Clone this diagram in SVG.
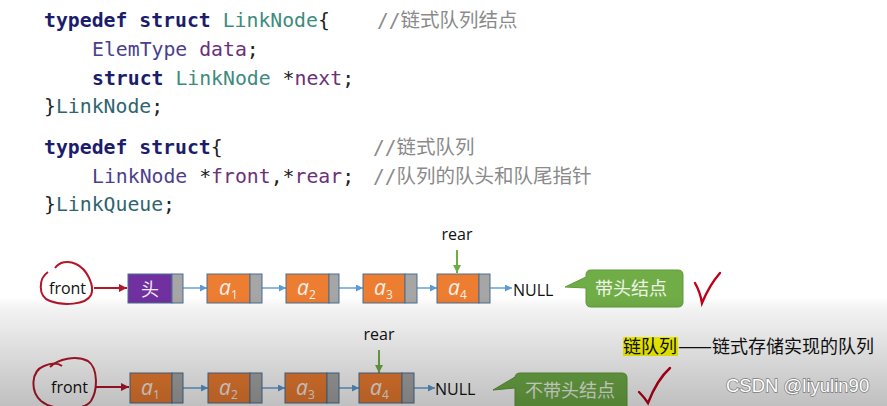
<svg xmlns="http://www.w3.org/2000/svg" width="887" height="406" viewBox="0 0 887 406">
<defs>
<style>
.code{font-family:"DejaVu Sans Mono","Noto Sans CJK SC",monospace;font-size:19.8px;fill:#222}
.kw{fill:#1c1c6c;font-weight:bold}
.ty{fill:#3d8b7c}
.tn{fill:#2f6470}
.et{fill:#4b3f8c}
.id{fill:#6c2f7a}
.cm{fill:#8a8a8a;font-family:"DejaVu Sans Mono","Noto Sans CJK SC",monospace}
.lbl{font-family:"Open Sans","Liberation Sans",sans-serif;font-size:16px;fill:#111}
.data{stroke:#4a6f8f;stroke-width:1}
.ptr{fill:#a6a6a6;stroke:#4a6f8f;stroke-width:1}
.av{font-family:"Open Sans","Liberation Sans",sans-serif;font-style:italic;font-size:21px;fill:#f6efe9}
.sub{font-size:12px;font-style:normal}
.blue{stroke:#5b9bd5;stroke-width:1.4;fill:none;marker-end:url(#ab)}
.red{stroke:#b3172b;stroke-width:2;fill:none}
.green{stroke:#70ad47;stroke-width:2;fill:none;marker-end:url(#ag)}
.call{fill:#70ad47;stroke:#5f9a3c;stroke-width:1}
.ct{font-family:"Noto Sans CJK SC",sans-serif;font-size:18px;fill:#eef5e8}
.cjk{font-family:"Noto Sans CJK SC",sans-serif;font-size:18px;fill:#111}
</style>
<marker id="ab" viewBox="0 0 10 10" refX="10" refY="5" markerWidth="7" markerHeight="7" markerUnits="userSpaceOnUse" orient="auto"><path d="M0,0 L10,5 L0,10 Z" fill="#5b9bd5"/></marker>
<marker id="ar" viewBox="0 0 10 10" refX="10" refY="5" markerWidth="8" markerHeight="8" markerUnits="userSpaceOnUse" orient="auto"><path d="M0,0 L10,5 L0,10 Z" fill="#b3172b"/></marker>
<marker id="ag" viewBox="0 0 10 10" refX="10" refY="5" markerWidth="8" markerHeight="8" markerUnits="userSpaceOnUse" orient="auto"><path d="M0,0 L10,5 L0,10 Z" fill="#70ad47"/></marker>
<linearGradient id="shade" x1="0" y1="0" x2="0" y2="1">
<stop offset="0" stop-color="#000" stop-opacity="0"/>
<stop offset="0.12" stop-color="#000" stop-opacity="0.05"/>
<stop offset="1" stop-color="#000" stop-opacity="0.25"/>
</linearGradient>
</defs>
<rect width="887" height="406" fill="#ffffff"/>

<g id="code" xml:space="preserve">
<text class="code" x="44" y="27"><tspan class="kw">typedef struct</tspan> <tspan class="ty">LinkNode</tspan>{</text>
<text class="cm" x="377" y="27" font-size="19.5">//链式队列结点</text>
<text class="code" x="92" y="56"><tspan class="et">ElemType</tspan> <tspan class="id">data</tspan>;</text>
<text class="code" x="92" y="85"><tspan class="kw">struct</tspan> <tspan class="ty">LinkNode</tspan> *<tspan class="id">next</tspan>;</text>
<text class="code" x="44" y="113">}<tspan class="tn">LinkNode</tspan>;</text>
<text class="code" x="44" y="154"><tspan class="kw">typedef struct</tspan>{</text>
<text class="cm" x="373" y="154" font-size="19.5">//链式队列</text>
<text class="code" x="92" y="183"><tspan class="et">LinkNode</tspan> *<tspan class="id">front</tspan>,*<tspan class="id">rear</tspan>;</text>
<text class="cm" x="373" y="183" font-size="19.5">//队列的队头和队尾指针</text>
<text class="code" x="44" y="211">}<tspan class="tn">LinkQueue</tspan>;</text>
</g>

<g id="connectors">
<path class="red" d="M94,288 H127" marker-end="url(#ar)"/>
<path class="blue" d="M183,288 H207"/>
<path class="blue" d="M262,288 H286"/>
<path class="blue" d="M339,288 H363"/>
<path class="blue" d="M417,288 H437"/>
<path class="blue" d="M490,288 H512"/>
<path class="green" d="M457,250 V273"/>
<path class="red" d="M96,387 H129" marker-end="url(#ar)"/>
<path class="blue" d="M183,388 H208"/>
<path class="blue" d="M262,388 H285"/>
<path class="blue" d="M339,388 H359"/>
<path class="blue" d="M414,388 H435"/>
<path class="green" d="M379,350 V373"/>
</g>

<g id="front1">
<path class="red" d="M48,272 C39,278 37,296 50,301 C63,306 86,305 91,295 C95,286 87,269 76,264 C68,260 59,262 55,268"/>
<text class="lbl" x="49" y="294">front</text>
</g>
<g id="head">
<rect x="128" y="274" width="44" height="29" fill="#7030a0" class="data"/>
<rect x="172" y="274" width="11" height="29" class="ptr"/>
<text x="150" y="296" text-anchor="middle" font-family="Noto Sans CJK SC,sans-serif" font-size="18" fill="#f0e8f6">头</text>
</g>
<g id="n1a1"><rect x="207" y="274" width="43" height="29" fill="#ed7d31" class="data"/><rect x="250" y="274" width="12" height="29" class="ptr"/><text class="av" x="219" y="295">a<tspan class="sub" dy="4">1</tspan></text></g>
<g id="n1a2"><rect x="286" y="274" width="43" height="29" fill="#ed7d31" class="data"/><rect x="329" y="274" width="10" height="29" class="ptr"/><text class="av" x="297" y="295">a<tspan class="sub" dy="4">2</tspan></text></g>
<g id="n1a3"><rect x="363" y="274" width="42" height="29" fill="#ed7d31" class="data"/><rect x="405" y="274" width="12" height="29" class="ptr"/><text class="av" x="374" y="295">a<tspan class="sub" dy="4">3</tspan></text></g>
<g id="n1a4"><rect x="437" y="274" width="42" height="29" fill="#ed7d31" class="data"/><rect x="479" y="274" width="11" height="29" class="ptr"/><text class="av" x="448" y="295">a<tspan class="sub" dy="4">4</tspan></text></g>
<g id="rear1"><text class="lbl" x="457" y="240" text-anchor="middle">rear</text></g>
<g id="null1"><text class="lbl" x="513" y="296">NULL</text></g>
<g id="callout1">
<path class="call" d="M591,270 H678 Q683,270 683,275 V302 Q683,307 678,307 H591 Q586,307 586,302 V288 L565,287 L586,277 V275 Q586,270 591,270 Z"/>
<text class="ct" x="595" y="295">带头结点</text>
</g>
<g id="check1"><path d="M695,283 C699,290 701,297 702,303 C707,291 713,281 720,273" stroke="#c0001a" stroke-width="2.4" fill="none" stroke-linecap="round"/></g>

<g id="front2">
<path class="red" d="M50,367 C58,359 76,355 88,361 C98,368 98,390 91,401 C84,411 53,411 41,401 C30,391 31,371 44,366 C51,363 58,363 62,366"/>
<text class="lbl" x="51" y="393">front</text>
</g>
<g id="n2a1"><rect x="130" y="373" width="42" height="30" fill="#ed7d31" class="data"/><rect x="172" y="373" width="11" height="30" class="ptr"/><text class="av" x="141" y="395">a<tspan class="sub" dy="4">1</tspan></text></g>
<g id="n2a2"><rect x="208" y="373" width="42" height="30" fill="#ed7d31" class="data"/><rect x="250" y="373" width="12" height="30" class="ptr"/><text class="av" x="219" y="395">a<tspan class="sub" dy="4">2</tspan></text></g>
<g id="n2a3"><rect x="285" y="373" width="42" height="30" fill="#ed7d31" class="data"/><rect x="327" y="373" width="12" height="30" class="ptr"/><text class="av" x="296" y="395">a<tspan class="sub" dy="4">3</tspan></text></g>
<g id="n2a4"><rect x="359" y="373" width="43" height="30" fill="#ed7d31" class="data"/><rect x="402" y="373" width="12" height="30" class="ptr"/><text class="av" x="370" y="395">a<tspan class="sub" dy="4">4</tspan></text></g>
<g id="rear2"><text class="lbl" x="379" y="340" text-anchor="middle">rear</text></g>
<g id="null2"><text class="lbl" x="435" y="395">NULL</text></g>
<g id="callout2">
<path class="call" d="M520,373 H622 Q627,373 627,378 V412 H515 V388 L493,390 L515,377 V378 Q515,373 520,373 Z"/>
<text class="ct" x="525" y="397">不带头结点</text>
</g>
<g id="check2"><path d="M639,392 C643,396 646,400 648,403 C653,390 660,377 670,368" stroke="#c0001a" stroke-width="2.4" fill="none" stroke-linecap="round"/></g>

<g id="caption">
<rect x="623" y="337" width="55" height="19" fill="#ffff00"/>
<text class="cjk" y="353"><tspan x="623">链队列</tspan><tspan x="678" textLength="34" lengthAdjust="spacingAndGlyphs">——</tspan><tspan x="712">链式存储实现的队列</tspan></text>
</g>

<rect x="0" y="296" width="887" height="110" fill="url(#shade)"/>

<g id="watermark">
<text x="726" y="392" font-family="Liberation Sans,Arial,sans-serif" font-size="18.5" fill="#ffffff" stroke="#7a7a7a" stroke-width="1.4" paint-order="stroke">CSDN @liyulin90</text>
</g>
</svg>
